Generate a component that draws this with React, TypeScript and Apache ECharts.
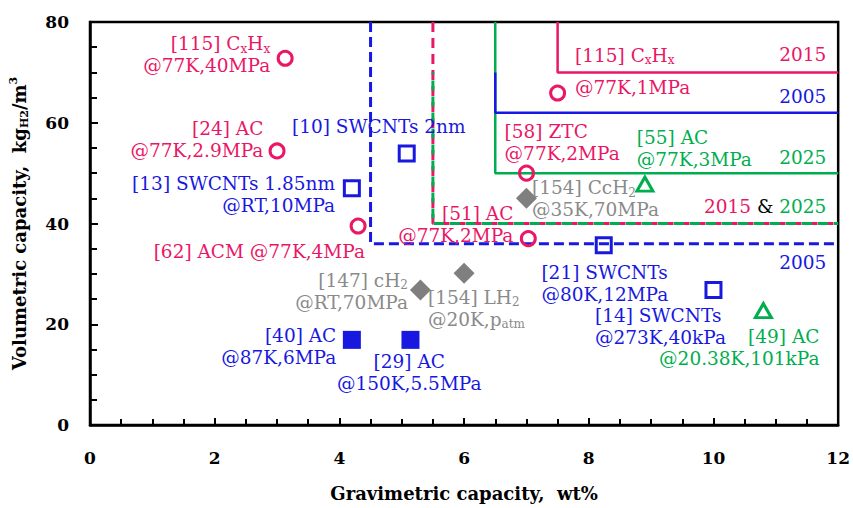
import React, { useEffect, useRef } from "react";
import * as echarts from "echarts";

// ---------- data ----------
const xTicks = { min: 0, max: 12, interval: 2 };
const yTicks = { min: 0, max: 80, interval: 20 };

// [x wt%, y kg/m3]
const pinkCircles = [
  [3.13, 72.8],
  [3.0, 54.4],
  [4.3, 39.5],
  [7.5, 65.9],
  [7.0, 50.0],
  [7.03, 37.0],
];
const blueHollowSquares = [
  [5.08, 53.9],
  [4.2, 47.0],
  [8.24, 35.7],
  [10.0, 26.8],
];
const blueFilledSquares = [
  [4.2, 16.9],
  [5.14, 16.9],
];
const grayDiamonds = [
  [5.3, 26.8],
  [6.0, 30.1],
  [7.0, 45.0],
];
const greenTriangles = [
  [8.9, 47.8],
  [10.8, 22.7],
];

// DOE target boundaries
const target2005Dashed = [[4.5, 80], [4.5, 36], [12, 36]];
const target2015Dashed = [[5.5, 80], [5.5, 40], [12, 40]];
const target2025Dashed = [[5.5, 70], [5.5, 40], [12, 40]];
const target2025Solid = [[6.5, 80], [6.5, 50], [12, 50]];
const target2005Solid = [[6.5, 70], [6.5, 62], [12, 62]];
const target2015Solid = [[7.5, 80], [7.5, 70], [12, 70]];

// annotation texts (anchor in data coordinates)
const annotations = [
  { text: "[115] C{s|x}H{s|x}\n@77K,40MPa", x: 2.89, y: 73.5, align: "right", c: "pink" },
  { text: "[24] AC\n@77K,2.9MPa", x: 2.78, y: 56.6, align: "right", c: "pink" },
  { text: "[10] SWCNTs 2nm", x: 3.24, y: 59.2, align: "left", c: "blue" },
  { text: "[13] SWCNTs 1.85nm\n@RT,10MPa", x: 3.93, y: 45.7, align: "right", c: "blue" },
  { text: "[62] ACM @77K,4MPa", x: 4.41, y: 34.5, align: "right", c: "pink" },
  { text: "[51] AC\n@77K,2MPa", x: 6.79, y: 39.9, align: "right", c: "pink" },
  { text: "[58] ZTC\n@77K,2MPa", x: 6.65, y: 56.0, align: "left", c: "pink" },
  { text: "[115] C{s|x}H{s|x}", x: 7.78, y: 73.4, align: "left", c: "pink" },
  { text: "@77K,1MPa", x: 7.78, y: 66.9, align: "left", c: "pink" },
  { text: "2015", x: 11.81, y: 73.5, align: "right", c: "pink" },
  { text: "2005", x: 11.81, y: 65.3, align: "right", c: "blue" },
  { text: "2025", x: 11.81, y: 53.2, align: "right", c: "green" },
  { text: "{p|2015} {k|&} {g|2025}", x: 11.81, y: 43.3, align: "right", c: "pink" },
  { text: "2005", x: 11.81, y: 32.2, align: "right", c: "blue" },
  { text: "[55] AC\n@77K,3MPa", x: 8.77, y: 54.9, align: "left", c: "green" },
  { text: "[154] CcH{s|2}\n@35K,70MPa", x: 7.09, y: 44.9, align: "left", c: "gray" },
  { text: "[147] cH{s|2}\n@RT,70MPa", x: 5.1, y: 26.6, align: "right", c: "gray" },
  { text: "[154] LH{s|2}\n@20K,p{s|atm}", x: 5.42, y: 23.2, align: "left", c: "gray" },
  { text: "[40] AC\n@87K,6MPa", x: 3.95, y: 15.6, align: "right", c: "blue" },
  { text: "[29] AC\n@150K,5.5MPa", x: 5.12, y: 10.4, align: "center", c: "blue" },
  { text: "[21] SWCNTs\n@80K,12MPa", x: 7.24, y: 28.1, align: "left", c: "blue" },
  { text: "[14] SWCNTs\n@273K,40kPa", x: 8.1, y: 19.5, align: "left", c: "blue" },
  { text: "[49] AC\n@20.38K,101kPa", x: 11.7, y: 15.4, align: "right", c: "green" },
];

// ---------- styles ----------
const FONT = "DejaVu Serif";
const PINK = "#EA1666";
const BLUE = "#1818E0";
const GREEN = "#00AE4F";
const GRAY_PT = "#7F7F7F";
const GRAY_TXT = "#8A8A8A";
const colorMap: Record<string, string> = { pink: PINK, blue: BLUE, green: GREEN, gray: GRAY_TXT };
const LABEL_SIZE = 18.5;

function richFor(color: string) {
  return {
    s: { fontSize: 12, fontFamily: FONT, color, verticalAlign: "bottom", lineHeight: 13 },
    p: { fontSize: LABEL_SIZE, fontFamily: FONT, color: PINK, lineHeight: 22 },
    k: { fontSize: LABEL_SIZE, fontFamily: FONT, color: "#000", lineHeight: 22 },
    g: { fontSize: LABEL_SIZE, fontFamily: FONT, color: GREEN, lineHeight: 22 },
  };
}

function lineSeries(data: number[][], color: string, type: any, width: number, dashOffset = 0) {
  return {
    type: "line",
    data,
    symbol: "none",
    silent: true,
    animation: false,
    lineStyle: { color, width, type, dashOffset, cap: "butt", opacity: 1 },
    z: 2,
  };
}

function pointSeries(data: number[][], symbol: string, symbolSize: any, itemStyle: any) {
  return {
    type: "scatter",
    data,
    symbol,
    symbolSize,
    silent: true,
    itemStyle: { opacity: 1, ...itemStyle },
    z: 5,
  };
}

export default function App() {
  const ref = useRef<HTMLDivElement>(null);
  useEffect(() => {
    if (!ref.current) return;
    const chart = echarts.init(ref.current, null, { renderer: "svg" });
    const axisFont = { fontFamily: FONT, fontWeight: "bold", fontSize: 17, color: "#000" };
    const hollow = "rgba(255,255,255,0)";
    const option: any = {
      animation: false,
      grid: {
        left: 89,
        right: 13,
        top: 22,
        bottom: 83,
        show: true,
        borderColor: "#000",
        borderWidth: 2.5,
        backgroundColor: "rgba(0,0,0,0)",
      },
      xAxis: {
        type: "value",
        min: xTicks.min,
        max: xTicks.max,
        interval: xTicks.interval,
        axisLine: { show: true, lineStyle: { color: "#000", width: 2.5 } },
        axisTick: { show: true, inside: true, length: 7, lineStyle: { color: "#000", width: 2 } },
        minorTick: { show: true, splitNumber: 4, length: 6, lineStyle: { color: "#000", width: 2 } },
        splitLine: { show: false },
        axisLabel: { ...axisFont, margin: 24 },
        name: "Gravimetric capacity,  wt%",
        nameLocation: "middle",
        nameGap: 59,
        nameTextStyle: { fontFamily: FONT, fontWeight: "bold", fontSize: 18, color: "#000" },
      },
      yAxis: {
        type: "value",
        min: yTicks.min,
        max: yTicks.max,
        interval: yTicks.interval,
        axisLine: { show: true, lineStyle: { color: "#000", width: 2.5 } },
        axisTick: { show: true, inside: true, length: 8, lineStyle: { color: "#000", width: 2 } },
        minorTick: { show: true, splitNumber: 4, length: 7, lineStyle: { color: "#000", width: 2 } },
        splitLine: { show: false },
        axisLabel: { ...axisFont, margin: 21 },
        name: "Volumetric capacity,  kg{sub|H2}/m{sup|3}",
        nameLocation: "middle",
        nameGap: 60,
        nameTextStyle: {
          fontFamily: FONT,
          fontWeight: "bold",
          fontSize: 18,
          color: "#000",
          lineHeight: 22,
          rich: {
            sub: { fontFamily: FONT, fontWeight: "bold", fontSize: 11, color: "#000", verticalAlign: "bottom", lineHeight: 12 },
            sup: { fontFamily: FONT, fontWeight: "bold", fontSize: 11, color: "#000", verticalAlign: "top", lineHeight: 12 },
          },
        },
      },
      series: [
        lineSeries(target2015Dashed, PINK, [10, 6], 3),
        lineSeries(target2025Dashed, GREEN, [10, 6], 3, 8),
        lineSeries(target2005Dashed, BLUE, [10, 5], 3),
        lineSeries(target2015Solid, PINK, "solid", 2.5),
        lineSeries(target2025Solid, GREEN, "solid", 2.5),
        lineSeries(target2005Solid, BLUE, "solid", 2.5),
        pointSeries(pinkCircles, "circle", 14, { color: hollow, borderColor: PINK, borderWidth: 3 }),
        pointSeries(blueHollowSquares, "rect", 15, { color: hollow, borderColor: BLUE, borderWidth: 3 }),
        pointSeries(blueFilledSquares, "rect", 18, { color: BLUE }),
        pointSeries(grayDiamonds, "diamond", 21, { color: GRAY_PT }),
        pointSeries(greenTriangles, "triangle", [16, 14], { color: hollow, borderColor: GREEN, borderWidth: 3 }),
        {
          type: "scatter",
          silent: true,
          symbolSize: 1,
          itemStyle: { color: "rgba(0,0,0,0)", opacity: 1 },
          z: 6,
          data: annotations.map((a) => ({
            value: [a.x, a.y],
            label: {
              show: true,
              position: "inside",
              formatter: a.text,
              align: a.align,
              verticalAlign: "middle",
              color: colorMap[a.c],
              opacity: 1,
              fontFamily: FONT,
              fontSize: LABEL_SIZE,
              lineHeight: 22,
              rich: richFor(colorMap[a.c]),
            },
          })),
        },
      ],
    };
    chart.setOption(option);
    return () => chart.dispose();
  }, []);
  return (
    <div
      ref={ref}
      style={{ position: "fixed", left: 0, top: 0, width: 853, height: 508, background: "#fff" }}
    />
  );
}
